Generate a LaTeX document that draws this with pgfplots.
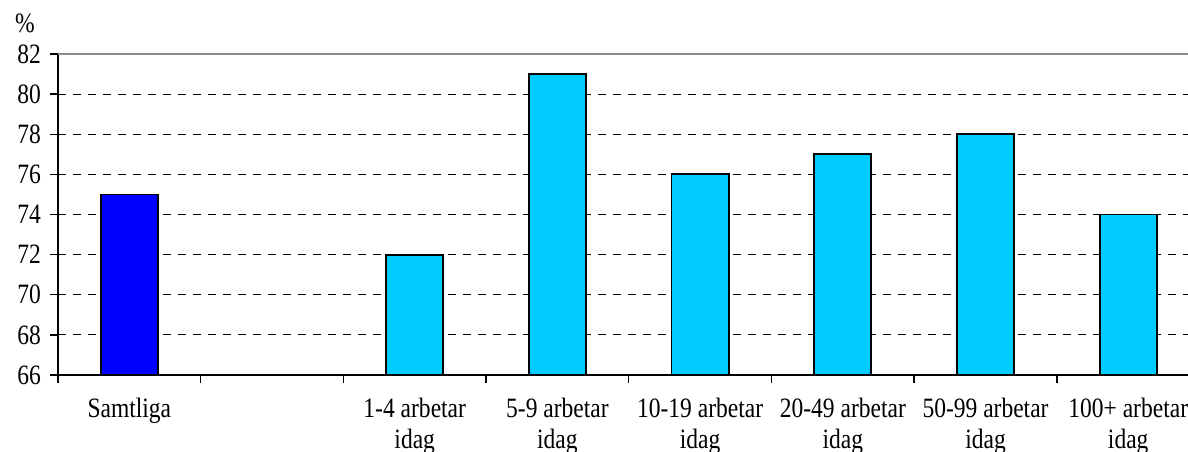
\documentclass[border=0pt]{standalone}
\usepackage{fontspec}
\setmainfont{Liberation Serif}[FakeStretch=0.84]
\usepackage{pgfplots}
\pgfplotsset{compat=1.18}
\definecolor{allblue}{RGB}{0,0,255}
\definecolor{cyanbar}{RGB}{0,204,255}
\newcommand{\chartfont}{\fontsize{14}{15.5}\selectfont}
\begin{document}
\begin{tikzpicture}
\begin{axis}[
    at={(29pt,38pt)}, anchor=south west,
    scale only axis,
    width=565pt, height=160.5pt,
    xmin=-0.5, xmax=7.419,
    ymin=66, ymax=82,
    axis x line*=bottom, axis y line*=left,
    axis line style={line width=0.9pt, black, -},
    ytick={66,68,...,80},
    extra y ticks={82},
    extra y tick style={grid style={solid, gray!90, line width=1.2pt}},
    ymajorgrids,
    grid style={dashed, black, line width=0.5pt, dash pattern=on 4pt off 3.5pt},
    xtick={0,...,7},
    xticklabels={Samtliga,,{1-4 arbetar\\idag},{5-9 arbetar\\idag},{10-19 arbetar\\idag},{20-49 arbetar\\idag},{50-99 arbetar\\idag},{100+ arbetar\\idag}},
    major x tick style={draw=none},
    minor xtick={-0.5,0.5,...,6.5},
    tick align=outside,
    major tick length=4pt, minor tick length=4pt,
    tick style={black, line width=0.7pt},
    xticklabel style={align=center, font=\chartfont, yshift=-4pt},
    yticklabel style={font=\chartfont, xshift=-1pt},
    /pgf/number format/assume math mode=true,
    ybar, bar width=0.4,
    bar shift=0pt,
]
\addplot[fill=allblue, draw=black, line width=0.9pt] coordinates {(0,75)};
\addplot[fill=cyanbar, draw=black, line width=0.9pt] coordinates {
    (2,72) (3,81) (4,76) (5,77) (6,78) (7,74)};
\end{axis}
\node[font=\chartfont] at (12.5pt,214pt) {\%};
\pgfresetboundingbox
\path (0,0) rectangle (594pt,225.5pt);
\end{tikzpicture}
\end{document}
